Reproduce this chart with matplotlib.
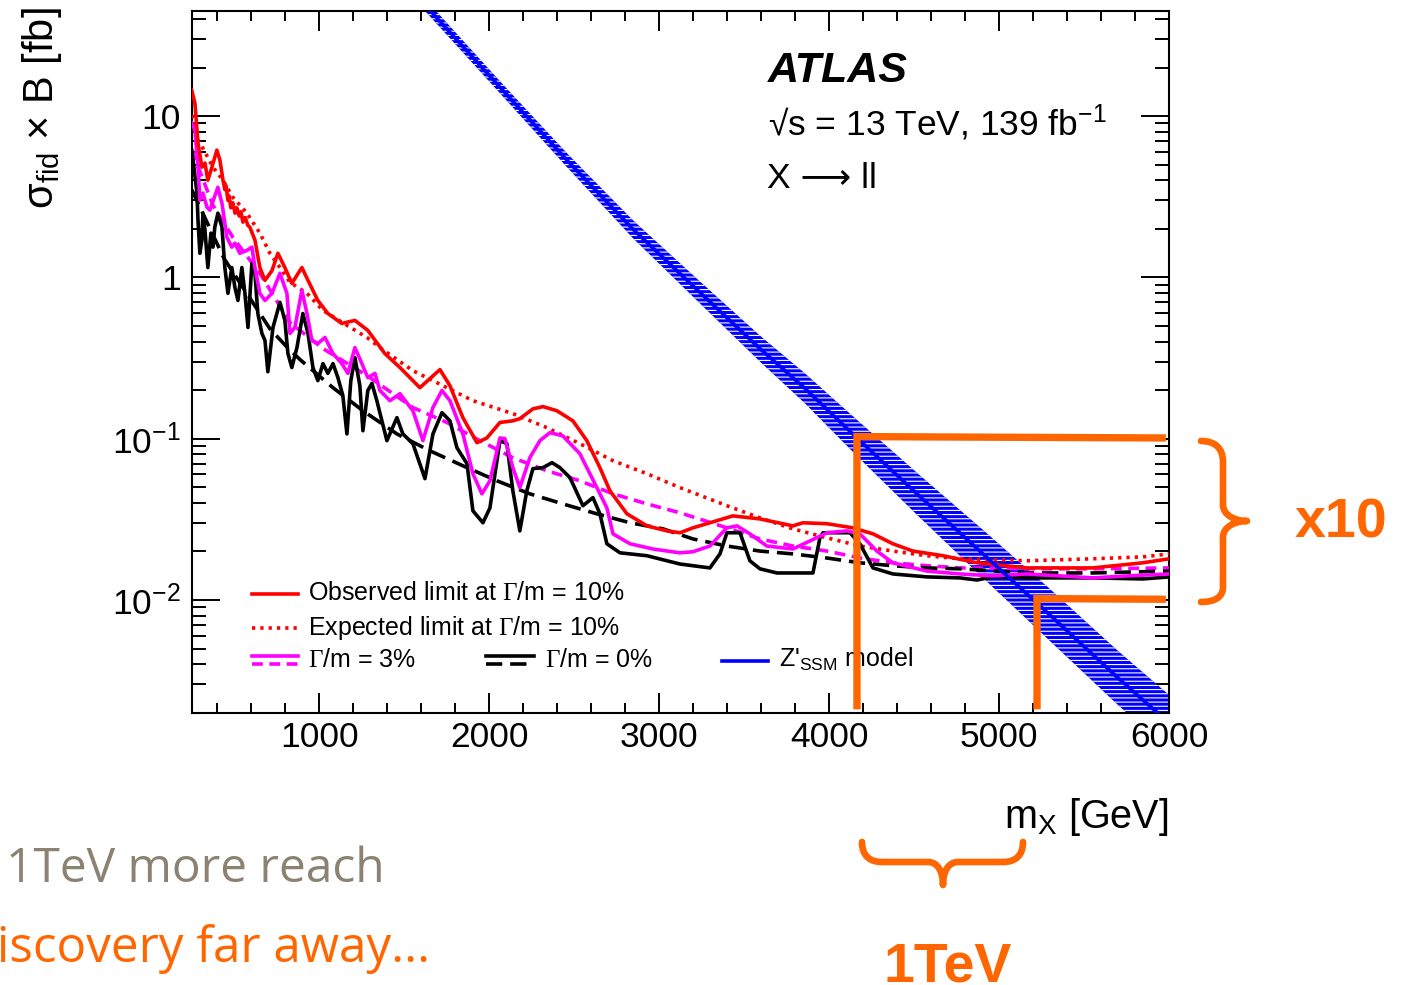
import matplotlib
matplotlib.use("Agg")
import matplotlib.pyplot as plt
import numpy as np
from matplotlib.path import Path
from matplotlib.patches import PathPatch
from matplotlib.lines import Line2D
from matplotlib.ticker import MultipleLocator, LogLocator, FixedLocator, FixedFormatter, NullFormatter

# ---------------- data ----------------
obs10_mass = [250, 269, 287, 310, 328, 345, 369, 398, 416, 434, 445, 452, 463, 470, 480, 492, 505, 515, 530, 540,
              551, 565, 580, 592, 622, 651, 681, 722, 757, 798, 839, 898, 934, 992, 1051, 1133, 1210, 1286, 1386, 1475,
              1592, 1710, 1769, 1845, 1928, 1986, 2063, 2139, 2180, 2257, 2316, 2398, 2492, 2574, 2651, 2710, 2810, 2928,
              3045, 3122, 3198, 3298, 3433, 3592, 3786, 3845, 3986, 4139, 4257, 4374, 4492, 4669, 4869, 5163, 5551, 5845, 6000]
obs10_xs = [14.5, 12.0, 6.79, 4.82, 5.11, 4.0, 4.82, 6.15, 5.33, 4.0, 3.5, 3.7, 3.0, 3.2, 2.7, 2.9, 2.5, 2.7, 2.4, 2.55,
            2.2, 2.35, 2.1, 2.05, 1.70, 1.15, 0.958, 1.10, 1.41, 1.15, 0.918, 1.15, 0.958, 0.719, 0.597, 0.518, 0.541, 0.469, 0.337, 0.276,
            0.207, 0.268, 0.213, 0.135, 0.0944, 0.101, 0.126, 0.129, 0.133, 0.153, 0.158, 0.149, 0.129, 0.0972, 0.0661, 0.0475, 0.0342, 0.0288,
            0.0268, 0.0261, 0.0280, 0.0301, 0.0332, 0.0318, 0.0288, 0.0301, 0.0297, 0.0280, 0.0257, 0.0223, 0.0201, 0.0188, 0.0170, 0.0158, 0.0158, 0.0170, 0.0180]

exp10_mass = [250, 287, 316, 375, 434, 492, 575, 651, 710, 769, 828, 928, 1022, 1163, 1281, 1357, 1551, 1751, 1904, 2139,
              2339, 2533, 2728, 2928, 3122, 3398, 3592, 3786, 3986, 4180, 4374, 4574, 4768, 5163, 5551, 5845, 6000]
exp10_xs = [10.1, 7.10, 6.32, 4.82, 4.0, 3.14, 2.50, 1.88, 1.41, 1.15, 0.931, 0.796, 0.624, 0.504, 0.424, 0.367, 0.264, 0.207, 0.172, 0.143,
            0.117, 0.0931, 0.0730, 0.0606, 0.0497, 0.0384, 0.0323, 0.0276, 0.0243, 0.0216, 0.0201, 0.0188, 0.0180, 0.0175, 0.0180, 0.0185, 0.0193]

obs3_mass = [250, 269, 287, 298, 316, 340, 357, 404, 428, 457, 486, 504, 533, 575, 604, 622, 651, 681, 722, 769,
             810, 828, 857, 898, 928, 957, 992, 1034, 1081, 1133, 1169, 1210, 1251, 1286, 1328, 1357, 1416, 1475, 1551, 1610,
             1669, 1722, 1769, 1845, 1904, 1957, 2004, 2063, 2092, 2139, 2180, 2239, 2298, 2357, 2433, 2533, 2633, 2692, 2728, 2828,
             2963, 3122, 3198, 3298, 3398, 3457, 3533, 3633, 3786, 3886, 3986, 4104, 4180, 4280, 4374, 4574, 4768, 4962, 5163, 5357,
             5551, 5751, 6000]
obs3_xs = [9.05, 8.19, 4.82, 3.01, 3.33, 2.72, 2.61, 3.62, 2.88, 1.77, 1.54, 1.63, 1.41, 1.47, 1.54, 1.15, 0.796, 0.719, 0.796, 1.06,
           0.796, 0.449, 0.489, 0.830, 0.597, 0.406, 0.389, 0.424, 0.337, 0.292, 0.254, 0.367, 0.292, 0.239, 0.254, 0.199, 0.172, 0.190, 0.149, 0.0972,
           0.156, 0.199, 0.172, 0.107, 0.0606, 0.0455, 0.0548, 0.101, 0.100, 0.0661, 0.0497, 0.0762, 0.0972, 0.109, 0.104, 0.0807, 0.0497, 0.0372, 0.0257, 0.0223,
           0.0207, 0.0196, 0.0199, 0.0216, 0.0280, 0.0288, 0.0257, 0.0216, 0.0207, 0.0232, 0.0261, 0.0268, 0.0257, 0.0201, 0.0170, 0.0151, 0.0145, 0.0141, 0.0145, 0.0141,
           0.0137, 0.0141, 0.0145]

exp3_mass = [250, 375, 492, 651, 828, 1022, 1281, 1551, 1751, 1945, 2139, 2339, 2533, 2728, 2928, 3122, 3398, 3592, 3786, 3986,
             4180, 4374, 4574, 4768, 5163, 5551, 6000]
exp3_xs = [6.15, 2.80, 1.77, 1.06, 0.525, 0.362, 0.246, 0.156, 0.126, 0.0972, 0.0762, 0.0632, 0.0548, 0.0455, 0.0394, 0.0347, 0.0280, 0.0239, 0.0216, 0.0201,
           0.0182, 0.0170, 0.0163, 0.0158, 0.0156, 0.0156, 0.0158]

obs0_mass = [250, 263, 281, 287, 298, 310, 316, 328, 345, 363, 375, 386, 404, 428, 445, 463, 486, 504, 522, 545,
             563, 581, 604, 622, 639, 663, 681, 698, 728, 769, 798, 816, 839, 869, 904, 934, 963, 992, 1022, 1051,
             1081, 1110, 1139, 1163, 1186, 1210, 1239, 1257, 1286, 1310, 1339, 1398, 1457, 1492, 1551, 1622, 1669, 1722, 1769, 1810,
             1869, 1904, 1963, 2004, 2063, 2104, 2139, 2180, 2221, 2257, 2316, 2369, 2416, 2475, 2551, 2610, 2651, 2692, 2769, 2928,
             3045, 3122, 3298, 3357, 3398, 3475, 3533, 3592, 3692, 3904, 3945, 3963, 4122, 4180, 4257, 4374, 4574, 4768, 4869, 4962,
             5163, 5551, 5845, 6000]
obs0_xs = [6.15, 4.82, 3.33, 2.26, 1.41, 1.70, 2.50, 1.96, 1.15, 1.88, 1.54, 2.05, 2.50, 2.05, 1.15, 0.796, 1.15, 0.867, 0.719, 1.15,
           0.796, 0.489, 1.22, 1.06, 0.597, 0.449, 0.406, 0.26, 0.489, 0.700, 0.541, 0.337, 0.276, 0.367, 0.597, 0.449, 0.276, 0.229, 0.292, 0.254,
           0.292, 0.239, 0.185, 0.107, 0.229, 0.318, 0.213, 0.112, 0.199, 0.220, 0.172, 0.0972, 0.135, 0.107, 0.0931, 0.0565, 0.107, 0.145, 0.129, 0.0879,
           0.070, 0.0357, 0.0301, 0.0372, 0.0972, 0.0931, 0.0475, 0.0268, 0.0475, 0.0652, 0.0661, 0.0710, 0.0661, 0.0573, 0.0384, 0.0431, 0.0342, 0.0223, 0.0196, 0.0188,
           0.0175, 0.0167, 0.0158, 0.0193, 0.0261, 0.0261, 0.0175, 0.0156, 0.0147, 0.0147, 0.0243, 0.0261, 0.0261, 0.0223, 0.0158, 0.0145, 0.0139, 0.0137, 0.0133, 0.0139,
           0.0137, 0.0137, 0.0135, 0.0139]

exp0_mass = [250, 440, 710, 810, 886, 1081, 1257, 1457, 1651, 1845, 2045, 2239, 2433, 2633, 2828, 3022, 3198, 3398, 3592, 3786,
             3986, 4180, 4374, 4574, 4768, 5163, 5551, 6000]
exp0_xs = [3.5, 1.31, 0.48, 0.37, 0.31, 0.207, 0.149, 0.107, 0.0841, 0.0679, 0.0548, 0.0455, 0.0394, 0.0342, 0.0301, 0.0276, 0.0239, 0.0216, 0.0201, 0.0193,
           0.0182, 0.0170, 0.0163, 0.0158, 0.0156, 0.0147, 0.0147, 0.0151]

zssm_mass = [1592, 2063, 2457, 2845, 3239, 3592, 3857, 4163, 4516, 4904, 5298, 5692, 6000]
zssm_xs = [53, 15.1, 5.33, 1.99, 0.807, 0.362, 0.205, 0.101, 0.0455, 0.0193, 0.00807, 0.00333, 0.00172]
zssm_unc = [1.09, 1.09, 1.105, 1.137, 1.17, 1.204, 1.239, 1.294, 1.35, 1.409, 1.45, 1.471, 1.493]

# slide annotations (orange guide lines, in data units)
guide1_mass = [4163, 4163, 5980]
guide1_xs = [0.0021, 0.103, 0.101]
guide2_mass = [5222, 5222, 5980]
guide2_xs = [0.0021, 0.0102, 0.0101]

x_major = [1000, 2000, 3000, 4000, 5000, 6000]
y_major = [0.01, 0.1, 1, 10]
y_labels = [r'$\mathregular{10^{-2}}$', r'$\mathregular{10^{-1}}$', '1', '10']

# ---------------- style ----------------
plt.rcParams['font.family'] = ['Liberation Sans', 'DejaVu Sans']
plt.rcParams['mathtext.fontset'] = 'custom'
plt.rcParams['mathtext.rm'] = 'Liberation Sans'
plt.rcParams['mathtext.it'] = 'Liberation Sans:italic'
plt.rcParams['mathtext.bf'] = 'Liberation Sans:bold'
plt.rcParams['mathtext.sf'] = 'Liberation Serif'
plt.rcParams['hatch.linewidth'] = 0.8

ORANGE = '#ff6600'
GRAY = '#8c8272'
W, H = 1407, 985
LW = 2.6


def fx(px):
    return px / W


def fy(py):
    return 1 - py / H


fig = plt.figure(figsize=(W / 100, H / 100), dpi=100)
ax = fig.add_axes([fx(191.7), fy(712.7), (1169.3 - 191.7) / W, (712.7 - 10.7) / H])
ax.set_yscale('log')
ax.set_xlim(250, 6000)
ax.set_ylim(0.002, 45)

zm = np.array(zssm_mass, float)
zc = np.array(zssm_xs, float)
zu = np.array(zssm_unc, float)
ax.fill_between(zm, zc / zu, zc * zu, facecolor='#0000ff', edgecolor='white',
                hatch='----', linewidth=0, zorder=2)

ax.plot(exp10_mass, exp10_xs, color='red', lw=LW, ls=(0, (0.9, 1.4)), zorder=3)
ax.plot(exp3_mass, exp3_xs, color='magenta', lw=LW, ls=(0, (3, 1.8)), zorder=3)
ax.plot(exp0_mass, exp0_xs, color='black', lw=LW, ls=(0, (4.5, 2.2)), zorder=3)
ax.plot(obs0_mass, obs0_xs, color='black', lw=LW, zorder=4, solid_joinstyle='round')
ax.plot(obs3_mass, obs3_xs, color='magenta', lw=LW, zorder=4, solid_joinstyle='round')
ax.plot(obs10_mass, obs10_xs, color='red', lw=LW, zorder=4, solid_joinstyle='round')
ax.plot(zssm_mass, zssm_xs, color='#0000ff', lw=LW, zorder=4)

ax.plot(guide1_mass, guide1_xs, color=ORANGE, lw=5.3, solid_joinstyle='miter', solid_capstyle='butt', zorder=8)
ax.plot(guide2_mass, guide2_xs, color=ORANGE, lw=5.3, solid_joinstyle='miter', solid_capstyle='butt', zorder=8)

# axes ticks
ax.xaxis.set_major_locator(FixedLocator(x_major))
ax.xaxis.set_minor_locator(MultipleLocator(200))
ax.yaxis.set_major_locator(FixedLocator(y_major))
ax.yaxis.set_major_formatter(FixedFormatter(y_labels))
ax.yaxis.set_minor_locator(LogLocator(base=10, subs=np.arange(2, 10), numticks=30))
ax.yaxis.set_minor_formatter(NullFormatter())
ax.tick_params(which='both', direction='in', top=True, right=True, width=1.4, labelsize=25.5)
ax.tick_params(axis='x', which='major', length=14.5, pad=6)
ax.tick_params(axis='x', which='minor', length=7.2)
ax.tick_params(axis='y', which='major', length=20.5, pad=8)
ax.tick_params(axis='y', which='minor', length=10)
for s in ax.spines.values():
    s.set_linewidth(1.5)

# axis titles
fig.text(fx(1168), fy(828), r'm$_{\mathregular{X}}$ [GeV]', ha='right', va='baseline', fontsize=28.5)
fig.text(fx(42), fy(7), r'σ$_{\mathregular{fid}}$ × B [fb]', rotation=90, ha='center', va='top', fontsize=30)

# ATLAS labels
fig.text(fx(768), fy(81.7), 'ATLAS', fontsize=31, fontweight='bold', fontstyle='italic', va='baseline')
fig.text(fx(768), fy(135), r'√s = 13 TeV, 139 fb$^{\mathregular{-1}}$', fontsize=25.5, va='baseline')
fig.text(fx(767), fy(188), 'X ⟶ ll', fontsize=25.5, va='baseline')


# legend (drawn inside axes so the orange guides go on top)
def leg_line(x0, x1, y, **kw):
    ln = Line2D([fx(x0), fx(x1)], [fy(y), fy(y)], transform=fig.transFigure, **kw)
    ln.set_clip_on(False)
    ax.add_artist(ln)


def leg_text(x, y, s):
    ax.text(fx(x), fy(y), s, transform=fig.transFigure, fontsize=18, va='baseline', ha='left', zorder=5)


leg_line(252, 298, 594, color='red', lw=LW)
leg_text(308, 600, r'Observed limit at $\mathsf{\Gamma}$/m = 10%')
leg_line(252, 298, 628, color='red', lw=LW, ls=(0, (0.9, 1.4)))
leg_text(308, 635, r'Expected limit at $\mathsf{\Gamma}$/m = 10%')
leg_line(252, 298, 656, color='magenta', lw=LW)
leg_line(252, 298, 664, color='magenta', lw=LW, ls=(0, (3, 1.8)))
leg_text(308, 667, r'$\mathsf{\Gamma}$/m = 3%')
leg_line(486, 534, 656, color='black', lw=LW)
leg_line(486, 534, 664, color='black', lw=LW, ls=(0, (4.5, 2.2)))
leg_text(545, 667, r'$\mathsf{\Gamma}$/m = 0%')
leg_line(722, 768, 661, color='#0000ff', lw=LW)
leg_text(779, 667, r"Z'$_{\mathregular{SSM}}$ model")


# orange braces
def brace(points, codes):
    verts = [(fx(x), fy(y)) for x, y in points]
    p = PathPatch(Path(verts, codes), transform=fig.transFigure, fill=False,
                  edgecolor=ORANGE, lw=4.8, capstyle='round', joinstyle='round')
    fig.add_artist(p)


C4, L2, M = Path.CURVE4, Path.LINETO, Path.MOVETO
brace([(1201, 441), (1215, 441), (1223, 448), (1223, 462), (1223, 505),
       (1223, 515), (1235, 521), (1247, 521),
       (1235, 521), (1223, 527), (1223, 537), (1223, 587),
       (1223, 597), (1215, 602), (1201, 602)],
      [M, C4, C4, C4, L2, C4, C4, C4, C4, C4, C4, L2, C4, C4, C4])
brace([(862, 842), (862, 856), (870, 862), (882, 862), (928, 862),
       (938, 862), (943, 872), (943, 885),
       (943, 872), (948, 862), (958, 862), (1003, 862),
       (1015, 862), (1023, 856), (1023, 842)],
      [M, C4, C4, C4, L2, C4, C4, C4, C4, C4, C4, L2, C4, C4, C4])

# slide texts
fig.text(fx(1295), fy(538), 'x10', fontsize=40, fontweight='bold', color=ORANGE, va='baseline', ha='left')
fig.text(fx(948), fy(982), '1TeV', fontsize=40, fontweight='bold', color=ORANGE, va='baseline', ha='center')
fig.text(fx(6), fy(882), '1TeV more reach', fontsize=34.5, family='Open Sans', color=GRAY, va='baseline', ha='left')
fig.text(fx(-39), fy(962), 'Discovery far away...', fontsize=35.6, family='Open Sans', color=ORANGE,
         va='baseline', ha='left')

fig.savefig('out.png', dpi=100)
